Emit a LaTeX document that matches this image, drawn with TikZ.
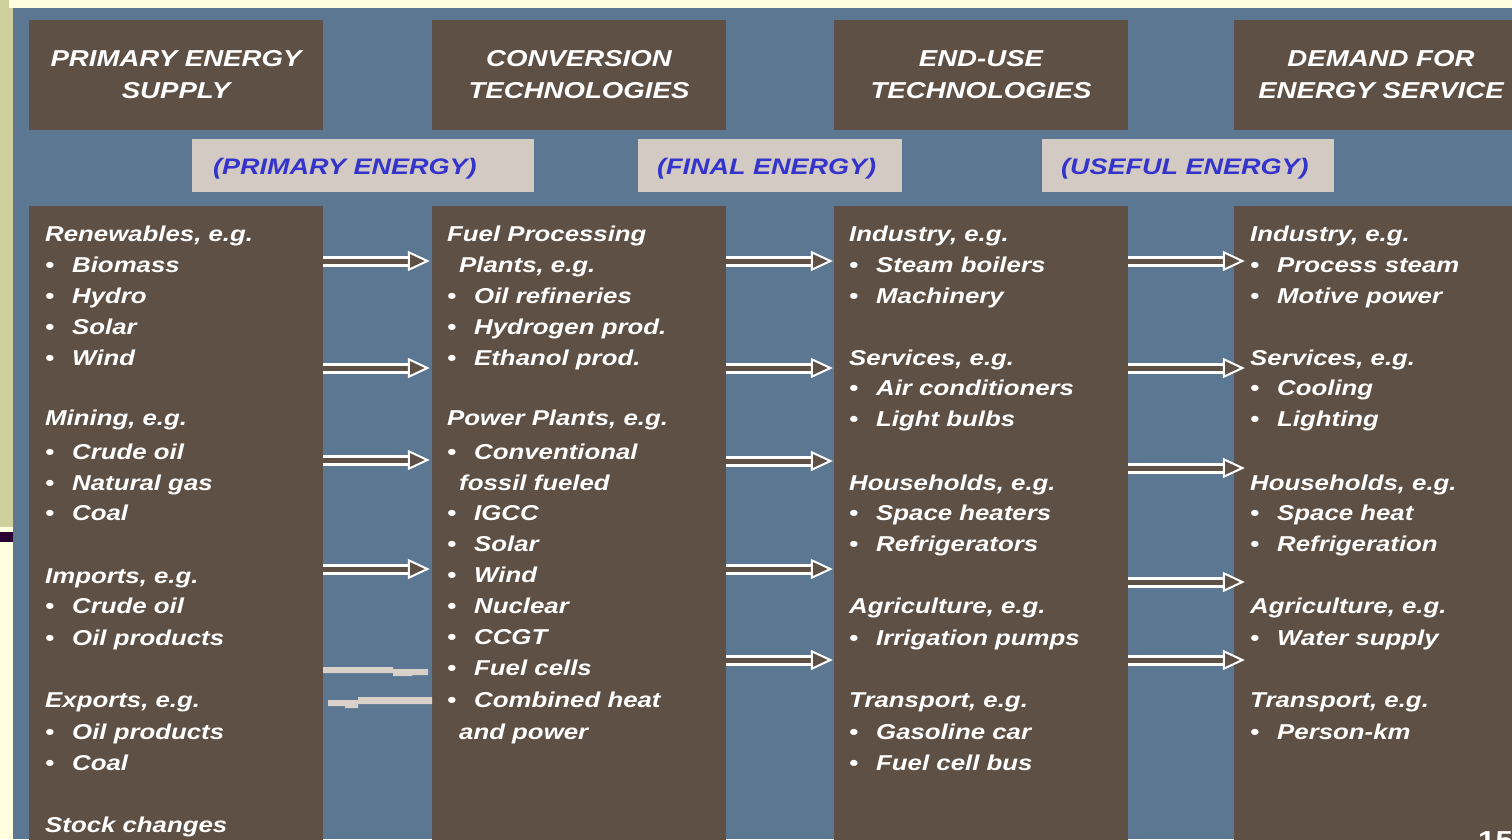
\documentclass[tikz,border=0pt]{standalone}
\usepackage{fontspec}
\setmainfont{Liberation Sans}[FakeStretch=1.2]
\usetikzlibrary{arrows.meta}

\definecolor{slideyellow}{RGB}{255,255,224}
\definecolor{slideolive}{RGB}{207,207,155}
\definecolor{slidepurple}{RGB}{42,0,51}
\definecolor{panelblue}{RGB}{91,119,145}
\definecolor{boxbrown}{RGB}{94,80,69}
\definecolor{tagfill}{RGB}{211,202,196}
\definecolor{tagblue}{RGB}{52,52,204}
\definecolor{barfill}{RGB}{217,208,202}

\newcommand\bul{\makebox[27pt][l]{\textbullet}}
\newcommand\ind{\hspace{12pt}}

\tikzset{
	headbox/.style={fill=boxbrown, inner sep=0, minimum width=294pt, minimum height=110pt,
		text=white, align=center, font=\fontsize{23}{32}\selectfont\bfseries\itshape},
	colbox/.style={fill=boxbrown, inner sep=0, minimum width=294pt, minimum height=640pt},
	tagbox/.style={fill=tagfill, inner sep=0, minimum height=53pt},
	tagtext/.style={anchor=base west, inner sep=0, text=tagblue,
		font=\fontsize{22.5}{27}\selectfont\bfseries\itshape},
	txt/.style={anchor=base west, inner sep=0, text=white,
		font=\fontsize{21.5}{31}\selectfont\bfseries\itshape},
	flow/.style={draw=white, line width=3pt, double=boxbrown, double distance=5pt,
		-{Triangle[open, length=22pt, width=20pt, line width=2pt, fill=boxbrown]}},
}

\begin{document}
\begin{tikzpicture}[x=1pt, y=-1pt]
	\clip (0,0) rectangle (1512,839);
	% slide background
	\fill[slideyellow] (0,0) rectangle (1512,839);
	\fill[slideolive] (0,0) rectangle (9,8);
	\fill[slideolive] (0,8) rectangle (13,527);
	\fill[slidepurple] (0,532) rectangle (13,542);
	\fill[panelblue] (13,8) rectangle (1512,839);

	% header boxes
	\node[headbox] (h1) at (176,75) {PRIMARY ENERGY\\SUPPLY};
	\node[headbox] (h2) at (579,75) {CONVERSION\\TECHNOLOGIES};
	\node[headbox] (h3) at (981,75) {END-USE\\TECHNOLOGIES};
	\node[headbox] (h4) at (1381,75) {DEMAND FOR\\ENERGY SERVICE};

	% energy labels
	\node[tagbox, minimum width=342pt] (e1) at (363,165.5) {};
	\node[tagbox, minimum width=264pt] (e2) at (770,165.5) {};
	\node[tagbox, minimum width=292pt] (e3) at (1188,165.5) {};
	\node[tagtext] (e1t) at (213,174) {(PRIMARY ENERGY)};
	\node[tagtext] (e2t) at (657,174) {(FINAL ENERGY)};
	\node[tagtext] (e3t) at (1061,174) {(USEFUL ENERGY)};

	% column boxes
	\node[colbox] (m1) at (176,526) {};
	\node[colbox] (m2) at (579,526) {};
	\node[colbox] (m3) at (981,526) {};
	\node[colbox] (m4) at (1381,526) {};

	% primary energy supply
	\foreach \y/\t [count=\i] in {241/{Renewables, e.g.}, 272/{\bul Biomass}, 303/{\bul Hydro},
		334/{\bul Solar}, 365/{\bul Wind}, 425/{Mining, e.g.}, 459/{\bul Crude oil},
		490/{\bul Natural gas}, 520/{\bul Coal}, 583/{Imports, e.g.}, 613/{\bul Crude oil},
		645/{\bul Oil products}, 707/{Exports, e.g.}, 739/{\bul Oil products},
		770/{\bul Coal}, 832/{Stock changes}}
		\node[txt] (ps-\i) at (45,\y) {\t};

	% conversion technologies
	\foreach \y/\t [count=\i] in {241/{Fuel Processing}, 272/{\ind Plants, e.g.},
		303/{\bul Oil refineries}, 334/{\bul Hydrogen prod.}, 365/{\bul Ethanol prod.},
		425/{Power Plants, e.g.}, 459/{\bul Conventional}, 490/{\ind fossil fueled},
		520/{\bul IGCC}, 551/{\bul Solar}, 582/{\bul Wind}, 613/{\bul Nuclear},
		644/{\bul CCGT}, 675/{\bul Fuel cells}, 707/{\bul Combined heat}, 739/{\ind and power}}
		\node[txt] (ct-\i) at (447,\y) {\t};

	% end-use technologies
	\foreach \y/\t [count=\i] in {241/{Industry, e.g.}, 272/{\bul Steam boilers},
		303/{\bul Machinery}, 365/{Services, e.g.}, 395/{\bul Air conditioners},
		426/{\bul Light bulbs}, 490/{Households, e.g.}, 520/{\bul Space heaters},
		551/{\bul Refrigerators}, 613/{Agriculture, e.g.}, 645/{\bul Irrigation pumps},
		707/{Transport, e.g.}, 739/{\bul Gasoline car}, 770/{\bul Fuel cell bus}}
		\node[txt] (eu-\i) at (849,\y) {\t};

	% demand for energy service
	\foreach \y/\t [count=\i] in {241/{Industry, e.g.}, 272/{\bul Process steam},
		303/{\bul Motive power}, 365/{Services, e.g.}, 395/{\bul Cooling},
		426/{\bul Lighting}, 490/{Households, e.g.}, 520/{\bul Space heat},
		551/{\bul Refrigeration}, 613/{Agriculture, e.g.}, 645/{\bul Water supply},
		707/{Transport, e.g.}, 739/{\bul Person-km}}
		\node[txt] (ds-\i) at (1250,\y) {\t};

	% flows between columns
	\foreach \y in {261,368,460,569}
		\draw[flow, shorten >=2pt] (m1.east |- 0,\y) -- (m2.west |- 0,\y);
	\foreach \y in {261,368,461,569,660}
		\draw[flow, shorten >=1pt] (m2.east |- 0,\y) -- (m3.west |- 0,\y);
	\foreach \y in {261,368,468,582,660}
		\draw[flow, shorten >=-11pt] (m3.east |- 0,\y) -- (m4.west |- 0,\y);

	% trade bars
	\fill[barfill] (323,667) -- (393,667) -- (393,669) -- (428,669) -- (428,675)
		-- (412,675) -- (412,676) -- (393,676) -- (393,673) -- (323,673) -- cycle;
	\fill[barfill] (328,700) -- (358,700) -- (358,697) -- (432,697) -- (432,704)
		-- (358,704) -- (358,708) -- (345,708) -- (345,706) -- (328,706) -- cycle;

	% page number
	\node[anchor=base west, inner sep=0, text=white,
		font=\fontsize{26}{26}\selectfont\bfseries] (pg) at (1478,849) {15};
\end{tikzpicture}
\end{document}
